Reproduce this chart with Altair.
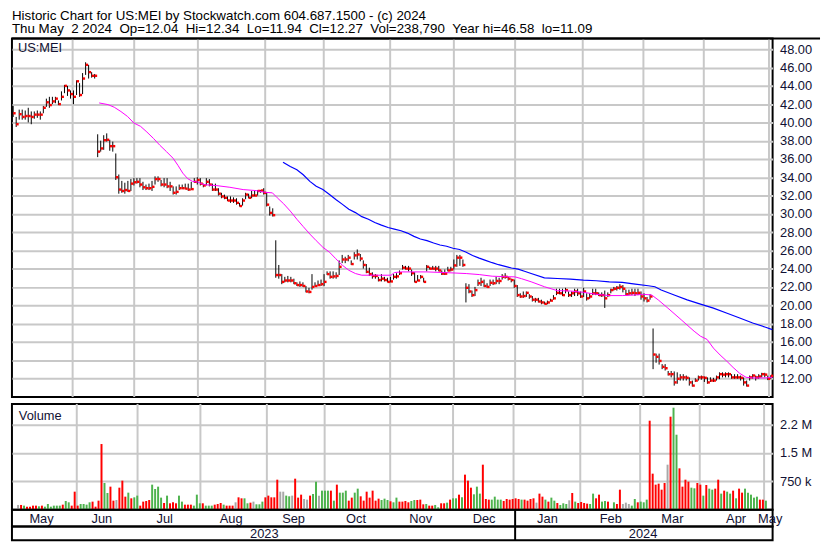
import altair as alt
import pandas as pd

FONT = "Liberation Sans"
TXT = "#111133"

title_line1 = "Historic Chart for US:MEI by Stockwatch.com 604.687.1500 - (c) 2024"
title_line2 = "Thu May  2 2024  Op=12.04  Hi=12.34  Lo=11.94  Cl=12.27  Vol=238,790  Year hi=46.58  lo=11.09"
title_line2 = title_line2.replace("  ", " \u00a0")

# ---- daily closes (trading days May 3 2023 .. May 2 2024) ----
close = (
    [41.0, 39.8, 40.9, 40.6, 40.7, 40.7, 40.6, 40.85, 40.85, 40.85, 41.6, 42.2, 41.9, 42.3, 42.6, 42.0, 42.8, 44.0, 43.5, 43.1]
    + [42.8, 44.5, 43.0, 44.8, 46.3, 45.5, 45.1, 45.1, 36.8, 37.15, 38.05, 38.1, 37.4, 37.4, 34.0, 32.65, 32.5, 32.6, 32.5, 33.3, 33.45]
    + [33.5, 33.2, 32.9, 32.8, 32.8, 32.95, 33.8, 33.8, 33.2, 33.2, 33.0, 33.0, 32.3, 32.4, 32.8, 32.8, 32.75, 32.65, 32.7, 33.5]
    + [33.7, 33.3, 33.1, 33.5, 33.2, 32.65, 32.65, 32.2, 31.9, 31.75, 31.45, 31.45, 31.45, 31.2, 30.85, 31.45, 32.1, 31.75, 32.0, 32.0, 32.5, 32.55, 32.3]
    + [31.0, 30.1, 29.85, 23.3, 23.3, 22.55, 22.7, 22.7, 22.7, 22.4, 22.2, 22.2, 22.1, 21.5, 21.45, 22.0, 22.1, 22.2, 22.3, 22.55]
    + [23.4, 23.1, 23.15, 23.2, 24.2, 25.0, 25.0, 25.2, 24.5, 25.45, 25.55, 25.1, 24.4, 23.65, 23.4, 23.2, 23.2, 22.75, 22.9, 22.75, 22.55, 22.6]
    + [23.1, 23.15, 23.5, 24.1, 24.0, 24.0, 23.5, 22.55, 22.7, 23.1, 22.55, 24.2, 24.0, 24.0, 24.0, 23.8, 23.45, 23.45, 23.8, 23.9, 24.35]
    + [25.2, 25.2, 24.4, 21.9, 21.5, 21.1, 21.65, 22.4, 22.55, 22.1, 22.0, 22.45, 22.4, 22.65, 22.65, 23.1, 23.1, 22.9, 22.75, 22.1]
    + [21.1, 20.95, 21.0, 21.35, 20.95, 20.6, 20.6, 20.4, 20.3, 20.15, 20.3, 20.5, 20.75, 21.35, 21.3, 21.1, 21.65, 21.1, 21.3, 21.5, 21.3]
    + [20.95, 21.5, 20.75, 20.95, 21.3, 21.3, 21.1, 21.1, 20.75, 21.1, 21.65, 21.8, 21.9, 22.0, 21.8, 21.2, 21.3, 21.35, 21.3, 21.35]
    + [20.95, 20.75, 20.5, 20.95, 14.6, 14.35, 13.9, 13.25, 13.1, 12.45, 12.45, 11.55, 11.95, 12.1, 12.1, 12.05, 11.55, 11.2, 11.75, 12.1]
    + [12.1, 12.05, 11.55, 11.75, 11.75, 12.1, 12.45, 12.4, 12.45, 12.45, 12.1, 12.1, 12.1, 12.05, 11.55, 11.2, 12.1, 12.3, 12.1, 12.2, 12.45, 12.4, 11.95, 12.27]
)
high = (
    [41.8, 40.6, 41.4, 41.4, 41.3, 41.6, 41.2, 41.2, 41.3, 41.2, 41.8, 42.6, 42.8, 42.8, 42.8, 42.4, 43.4, 44.1, 44.0, 43.5]
    + [43.5, 44.6, 44.3, 45.4, 46.58, 46.3, 45.5, 45.3, 38.7, 38.0, 38.6, 38.8, 38.1, 37.9, 36.6, 34.3, 33.6, 33.4, 33.6, 33.8, 33.9]
    + [33.9, 33.9, 33.5, 33.2, 33.3, 33.6, 34.1, 34.1, 33.7, 33.9, 33.9, 33.5, 33.0, 33.0, 33.2, 33.2, 33.3, 33.3, 33.5, 33.9]
    + [34.0, 33.9, 33.3, 33.9, 33.8, 33.3, 33.3, 32.8, 32.3, 32.1, 31.9, 31.9, 31.8, 31.7, 31.2, 31.7, 32.3, 32.2, 32.5, 32.5, 32.6, 32.6, 32.8]
    + [32.3, 30.8, 30.6, 27.1, 24.4, 23.4, 23.1, 23.2, 23.1, 22.9, 22.5, 22.6, 22.5, 22.1, 21.9, 23.4, 22.5, 22.7, 22.8, 23.4]
    + [23.7, 23.7, 23.7, 23.6, 24.9, 25.5, 25.3, 25.5, 24.9, 25.8, 26.1, 25.6, 24.9, 24.5, 24.1, 23.6, 23.4, 23.1, 23.4, 23.1, 23.0, 23.1]
    + [23.4, 23.5, 23.8, 24.4, 24.3, 24.3, 23.9, 23.6, 23.3, 23.3, 23.0, 24.4, 24.2, 24.3, 24.3, 24.3, 23.8, 23.9, 24.2, 24.2, 25.0]
    + [25.5, 25.5, 25.0, 22.4, 22.3, 21.6, 22.0, 22.8, 23.0, 22.8, 22.4, 22.8, 22.8, 23.1, 23.0, 23.4, 23.5, 23.1, 22.9, 22.8]
    + [22.2, 21.3, 21.5, 21.5, 21.2, 21.0, 20.8, 20.8, 20.6, 20.4, 20.5, 20.7, 21.1, 21.8, 21.8, 21.8, 21.9, 21.5, 21.5, 21.8, 21.8]
    + [21.5, 21.9, 21.3, 21.3, 21.8, 21.8, 21.4, 21.4, 21.6, 21.4, 21.8, 22.0, 22.1, 22.3, 22.2, 21.7, 21.7, 21.8, 21.8, 21.8]
    + [21.5, 21.3, 20.9, 21.2, 17.45, 14.7, 14.7, 13.55, 13.55, 12.8, 12.8, 12.75, 12.65, 12.45, 12.45, 12.3, 12.1, 11.75, 12.0, 12.3]
    + [12.3, 12.2, 12.1, 12.1, 12.05, 12.3, 12.65, 12.65, 12.65, 12.65, 12.45, 12.45, 12.45, 12.3, 12.1, 11.75, 12.3, 12.45, 12.3, 12.45, 12.6, 12.6, 12.3, 12.34]
)
low = (
    [40.6, 39.5, 40.3, 40.3, 40.3, 40.0, 39.8, 40.4, 40.5, 40.3, 41.0, 41.7, 41.6, 42.0, 42.1, 41.9, 42.4, 43.2, 42.9, 42.6]
    + [42.0, 43.0, 42.8, 43.1, 45.2, 44.8, 44.9, 44.8, 36.2, 36.8, 37.0, 37.9, 36.9, 36.8, 33.7, 32.2, 32.3, 32.2, 32.4, 32.5, 33.1]
    + [33.3, 32.9, 32.6, 32.6, 32.6, 32.5, 33.2, 33.5, 33.0, 32.9, 32.8, 32.5, 32.1, 32.1, 32.6, 32.7, 32.7, 32.5, 32.6, 33.4]
    + [33.2, 33.1, 32.9, 33.1, 33.0, 32.5, 32.5, 32.0, 31.7, 31.6, 31.4, 31.2, 31.2, 31.0, 30.8, 30.9, 31.6, 31.7, 31.7, 31.9, 32.0, 32.3, 32.1]
    + [30.8, 29.8, 29.7, 23.0, 22.9, 22.3, 22.5, 22.5, 22.5, 22.3, 22.1, 22.0, 22.0, 21.4, 21.3, 21.7, 22.0, 22.1, 22.1, 22.1]
    + [23.3, 22.9, 22.9, 22.9, 23.3, 24.6, 24.6, 24.8, 24.4, 25.0, 25.0, 24.8, 24.0, 23.5, 23.2, 22.9, 22.9, 22.6, 22.6, 22.6, 22.5, 22.5]
    + [22.8, 22.9, 23.3, 23.9, 23.9, 23.7, 23.2, 22.5, 22.6, 22.9, 22.5, 23.7, 23.9, 23.9, 23.7, 23.7, 23.3, 23.3, 23.7, 23.7, 23.9]
    + [24.2, 24.3, 24.2, 20.3, 21.3, 20.9, 21.0, 22.1, 22.1, 22.0, 21.9, 22.1, 22.2, 22.3, 22.3, 22.8, 22.9, 22.7, 22.5, 21.9]
    + [20.9, 20.8, 20.8, 20.9, 20.7, 20.4, 20.3, 20.3, 20.1, 20.1, 20.1, 20.4, 20.6, 21.1, 21.2, 21.0, 21.3, 20.9, 20.9, 21.0, 21.0]
    + [20.8, 20.9, 20.5, 20.7, 21.1, 21.1, 21.0, 20.9, 19.7, 20.9, 21.3, 21.6, 21.6, 21.7, 21.4, 21.1, 21.1, 21.1, 21.0, 21.1]
    + [20.6, 20.4, 20.3, 20.6, 13.0, 13.7, 13.5, 13.0, 12.85, 12.3, 12.1, 11.2, 11.4, 11.75, 11.75, 11.75, 11.2, 11.09, 11.6, 11.75]
    + [11.85, 11.6, 11.4, 11.6, 11.6, 11.75, 11.9, 12.1, 12.1, 12.1, 11.95, 11.95, 11.95, 11.75, 11.2, 11.1, 11.75, 11.95, 11.75, 11.95, 12.1, 12.1, 11.8, 11.94]
)
# ---- daily volume (thousands) and bar colour: r = down, g = up, n = unchanged ----
vol_k = (
    [124, 124, 106, 79, 79, 106, 106, 88, 106, 79, 150, 79, 106, 106, 106, 132, 229, 194, 106, 476]
    + [106, 150, 150, 132, 194, 212, 79, 238, 1738, 706, 441, 609, 238, 256, 582, 768, 344, 450, 300, 326, 371]
    + [106, 212, 229, 256, 662, 547, 609, 318, 176, 371, 168, 194, 168, 371, 212, 132, 132, 132, 106, 397]
    + [168, 168, 106, 106, 106, 132, 150, 176, 132, 106, 106, 106, 194, 326, 300, 300, 168, 185, 212, 141, 141, 212, 326]
    + [371, 326, 326, 794, 476, 476, 371, 353, 371, 820, 318, 397, 282, 265, 371, 415, 741, 371, 503, 503]
    + [503, 503, 238, 662, 450, 450, 503, 238, 318, 450, 556, 353, 238, 476, 318, 503, 238, 291, 256, 291, 256, 221]
    + [194, 318, 212, 212, 229, 194, 229, 256, 256, 265, 141, 150, 106, 106, 124, 62, 168, 168, 185, 265, 300]
    + [300, 397, 326, 927, 768, 582, 406, 609, 424, 1191, 282, 265, 265, 344, 265, 265, 229, 282, 265, 282]
    + [300, 282, 265, 265, 238, 282, 300, 185, 424, 344, 265, 212, 318, 238, 176, 124, 168, 150, 247, 441, 212]
    + [176, 203, 176, 159, 150, 424, 300, 397, 212, 229, 212, 20, 194, 150, 529, 150, 185, 150, 106, 282]
    + [194, 212, 194, 265, 2356, 953, 662, 688, 529, 706, 1191, 2462, 2700, 1985, 1094, 609, 794, 741, 582, 565]
    + [706, 662, 371, 653, 556, 529, 556, 794, 424, 503, 476, 424, 503, 300, 556, 450, 556, 450, 397, 318, 344, 265, 265, 238]
)
vol_col = (
    "nrgrrrrgrggggggrggrr"
    + "rggggrrrrggrrnrrrgrgg"
    + "rrrrggggrgrrrggrrrgg"
    + "grgggrrrgrrrnrrggrnggg" + "r"
    + "rrrrnnggnrrrnnrggngg"
    + "grgrgggrrggrrrrrrrgggr"
    + "ggrrrrggrrrgrrggrrgrg"
    + "grgrrrgggrrrggggrrrr"
    + "rrgrrrrnrrgrggrgggnrg"
    + "rrrrggrrggrggrrnnngg"
    + "rgggrrrrrrnrggrrrrgg"
    + "rrgrggrrgrggrgrrggggg" + "rrg"
)

# ---- moving averages (trading-day index, price) ----
ma_fast_i = [28.5, 31.4, 33.5, 35.7, 37.9, 40.0, 42.2, 44.3, 46.5, 48.6, 50.8, 53.0, 54.6, 56.2, 57.8,
             59.4, 61.1, 63.2, 67.5, 71.8, 76.2, 80.5, 83.2, 85.9, 87.5, 89.6, 91.8, 94.0, 96.1, 98.3,
             100.4, 102.6, 104.8, 106.9, 109.1, 111.2, 113.4, 115.5, 120.0, 125.2, 126.3, 128.5, 137.1, 145.7, 150.1,
             154.4, 158.7, 163.0, 166.2, 168.4, 171.6, 176.0, 180.3, 184.6, 188.9, 193.2, 197.5, 201.8, 206.1, 208.8,
             211.5, 213.7, 216.9, 221.3, 225.6, 227.7, 229.9, 232.0, 234.2, 236.3, 238.5, 240.7, 242.8, 245.0, 249.3, 251.5]
ma_fast_v = [42.13, 41.95, 41.66, 41.19, 40.65, 39.93, 39.57, 38.95, 38.24, 37.5, 36.8, 36.07, 35.3, 34.45, 33.85,
             33.55, 33.48, 33.19, 33.08, 32.9, 32.65, 32.54, 32.36, 32.29, 31.75, 31.1, 30.3, 29.4, 28.6, 27.78,
             27.06, 26.34, 25.8, 25.08, 24.36, 23.82, 23.46, 23.28, 23.28, 23.28, 23.57, 23.64, 23.64, 23.53, 23.46,
             23.35, 23.17, 23.12, 23.1, 22.9, 22.56, 22.02, 21.59, 21.55, 21.41, 21.19, 21.05, 21.05, 21.12, 21.19,
             21.12, 20.58, 19.68, 18.41, 17.15, 16.61, 16.25, 15.3, 14.55, 13.91, 13.19, 12.54, 12.11, 12.04, 12.04, 12.11]
ma_slow_i = [89.4, 91.8, 94.0, 96.1, 98.3, 100.4, 102.6, 104.8, 106.9, 109.1, 111.2, 113.4, 115.5, 117.7, 119.8,
             122.0, 124.2, 126.3, 128.5, 130.6, 132.8, 134.9, 137.1, 139.3, 141.4, 143.6, 145.7, 147.9, 150.1, 152.2,
             154.4, 156.5, 158.7, 160.8, 163.0, 165.1, 167.3, 169.4, 171.6, 176.0, 180.3, 184.6, 188.9, 193.2, 197.5,
             201.8, 206.1, 210.4, 212.6, 214.7, 219.0, 223.3, 227.7, 232.0, 236.3, 240.7, 245.0, 249.3, 251.5]
ma_slow_v = [35.64, 35.17, 34.81, 34.27, 33.55, 33.01, 32.65, 32.11, 31.57, 31.03, 30.49, 30.13, 29.69, 29.41, 29.05,
             28.76, 28.5, 28.32, 28.14, 27.89, 27.53, 27.24, 27.06, 26.81, 26.59, 26.45, 26.23, 26.09, 25.8, 25.44,
             25.15, 24.9, 24.65, 24.43, 24.25, 24.07, 23.95, 23.71, 23.46, 22.99, 22.92, 22.85, 22.74, 22.67, 22.56,
             22.49, 22.31, 22.13, 22.02, 21.66, 21.12, 20.58, 20.11, 19.68, 19.14, 18.59, 18.05, 17.59, 17.33]

# ---- axes / labels ----
month_grid = [19.7, 40.1, 61.2, 83.5, 102.9, 124.9, 146.0, 166.3, 188.7, 208.8, 228.8, 250.4]
month_names = ["May", "Jun", "Jul", "Aug", "Sep", "Oct", "Nov", "Dec", "Jan", "Feb", "Mar", "Apr", "May"]
month_pos = [9.4, 29.4, 50.2, 72.2, 92.9, 113.6, 135.0, 156.0, 177.0, 198.0, 218.4, 239.5, 250.8]
year_names = ["2023", "2024"]
year_pos = [83.2, 208.7]
year_split = [166.3]
price_ticks = [12, 14, 16, 18, 20, 22, 24, 26, 28, 30, 32, 34, 36, 38, 40, 42, 44, 46, 48]
vol_ticks = [750000, 1500000, 2250000]
vol_tick_labels = ["750 k", "1.5 M", "2.2 M"]

W = 770
n = len(close)
price_df = pd.DataFrame({"i": list(range(n)), "hi": high, "lo": low, "c": close})
vol_df = pd.DataFrame({"i": list(range(n)), "v": [k * 1000 for k in vol_k], "col": list(vol_col)})
grid_df = pd.DataFrame({"g": month_grid})

GRID = "#c8c8c8"
xs = alt.Scale(domain=[-0.4, 251.6], nice=False, zero=False)
ys = alt.Scale(domain=[9.95, 49.19], nice=False, zero=False)
vs = alt.Scale(domain=[0, 2800000], nice=False, zero=True)

p_axis = alt.Axis(orient="right", values=price_ticks, format=".2f", grid=True, gridColor=GRID, gridWidth=2,
                  ticks=False, domain=False, title=None, labelFontSize=13, labelPadding=7, labelColor=TXT)
expr = "''"
for v, lab in zip(vol_ticks, vol_tick_labels):
    expr = f"datum.value == {v} ? '{lab}' : " + expr
v_axis = alt.Axis(orient="right", values=vol_ticks, labelExpr=expr, grid=True, gridColor=GRID, gridWidth=2,
                  ticks=False, domain=False, title=None, labelFontSize=13, labelPadding=7, labelColor=TXT)


def X(f):
    return alt.X(f, type="quantitative", scale=xs, axis=None)


def YP(f):
    return alt.Y(f, type="quantitative", scale=ys, axis=p_axis)


vgrid = alt.Chart(grid_df).mark_rule(color=GRID, strokeWidth=2).encode(x=X("g"))

bars = alt.Chart(price_df).mark_rule(color="black", strokeWidth=1).encode(x=X("i"), y=YP("lo"), y2="hi")
cticks = alt.Chart(price_df).mark_square(color="#ff0000", size=6, opacity=1, xOffset=1.3).encode(x=X("i"), y=YP("c"))
ma_fast = alt.Chart(pd.DataFrame({"i": ma_fast_i, "v": ma_fast_v})).mark_line(
    color="#ff00ff", strokeWidth=1).encode(x=X("i"), y=YP("v"))
ma_slow = alt.Chart(pd.DataFrame({"i": ma_slow_i, "v": ma_slow_v})).mark_line(
    color="#0000ff", strokeWidth=1.2).encode(x=X("i"), y=YP("v"))
sym = alt.Chart(pd.DataFrame({"t": ["US:MEI"]})).mark_text(
    align="left", baseline="middle", fontSize=13, color=TXT).encode(x=alt.value(6), y=alt.value(10), text="t:N")
head = alt.Chart(pd.DataFrame({"t": [title_line1, title_line2], "yy": [-22.5, -9.0]})).mark_text(
    align="left", baseline="middle", fontSize=13.5, color="black").encode(
    x=alt.value(0), y=alt.Y("yy:Q", scale=None), text="t:N")
topline = alt.Chart(pd.DataFrame({"t": [0]})).mark_rule(color="black", strokeWidth=2).encode(
    x=alt.value(0), x2=alt.value(818), y=alt.value(0))
price = alt.layer(vgrid, bars, cticks, ma_fast, ma_slow, sym, head, topline).properties(width=W, height=363)

vbars = alt.Chart(vol_df).mark_bar(size=2).encode(
    x=X("i"),
    y=alt.Y("v:Q", scale=vs, axis=v_axis),
    color=alt.Color("col:N", scale=alt.Scale(domain=["r", "g", "n"], range=["#ff0000", "#4db34d", "#a8a8a8"]),
                    legend=None),
)
vtext = alt.Chart(pd.DataFrame({"t": ["Volume"]})).mark_text(
    align="left", baseline="middle", fontSize=13, color=TXT).encode(x=alt.value(7), y=alt.value(12), text="t:N")
volume = alt.layer(vgrid, vbars, vtext).properties(width=W, height=107)

xn = alt.X("p:Q", scale=xs, axis=None)
mtext = alt.Chart(pd.DataFrame({"p": month_pos, "m": month_names})).mark_text(
    fontSize=13, baseline="middle", color=TXT).encode(x=xn, y=alt.value(9.5), text="m:N")
msplit = alt.Chart(pd.DataFrame({"p": year_split})).mark_rule(color="black", strokeWidth=2).encode(
    x=xn, y=alt.value(0), y2=alt.value(17))
months = alt.layer(mtext, msplit).properties(width=W, height=17)

ytext = alt.Chart(pd.DataFrame({"p": year_pos, "m": year_names})).mark_text(
    fontSize=13, baseline="middle", color=TXT).encode(x=xn, y=alt.value(7.5), text="m:N")
ysplit = alt.Chart(pd.DataFrame({"p": year_split})).mark_rule(color="black", strokeWidth=2).encode(
    x=xn, y=alt.value(0), y2=alt.value(14))
years = alt.layer(ytext, ysplit).properties(width=W, height=14)

lower = alt.vconcat(volume, months, years, spacing=0, bounds="flush")

chart = alt.vconcat(
    price,
    lower,
    spacing=3,
).properties(
    padding={"left": 2, "top": -3.5, "right": 0, "bottom": 0},
).configure(font=FONT).configure_view(stroke="black", strokeWidth=2)

chart.save("out.html", embed_options={"renderer": "svg", "actions": False})
